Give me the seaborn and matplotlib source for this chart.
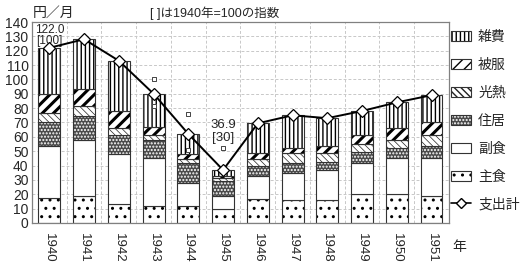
import numpy as np
import pandas as pd
import matplotlib
matplotlib.use('Agg')
import matplotlib.pyplot as plt
import matplotlib.patches as mpatches
from matplotlib.lines import Line2D
from matplotlib.legend_handler import HandlerTuple
import seaborn as sns

# 家計支出の内訳 (円/月)
years = ['1940', '1941', '1942', '1943', '1944', '1945',
         '1946', '1947', '1948', '1949', '1950', '1951']
shushoku = [17.5, 19, 13, 12, 12, 10, 17, 16, 16, 20, 20, 19]       # 主食
fukushoku = [36, 38.5, 35, 33, 15.5, 8.5, 15.6, 19, 21, 21.5, 25, 26.5]  # 副食
jukyo = [16.5, 17, 13.5, 13, 14, 11, 6.8, 6.5, 5.5, 8, 7, 8]       # 住居
kounetsu = [6.5, 7, 4.5, 3, 3, 1.5, 5, 7, 6, 5.5, 6, 8]            # 光熱
hifuku = [13, 12, 12, 6, 3.5, 1.5, 4, 4, 5, 6, 8, 8.5]             # 被服
zappi = [32.5, 34.5, 35, 23, 14, 4.4, 21, 22.5, 19.5, 17, 18, 19]  # 雑費
total = [122.0, 128, 113, 90, 62, 36.9, 69.4, 75, 73, 78, 84, 89]  # 支出計

# stray small square markers seen in the chart
stray_idx = [3, 3, 4, 4, 5]
stray_val = [100, 81.5, 75.7, 51, 52]

sns.set_style('white')
plt.rcParams['font.family'] = ['Liberation Sans', 'Noto Sans CJK JP', 'DejaVu Sans']
plt.rcParams['font.size'] = 9

fig, ax = plt.subplots(figsize=(5.22, 2.62), dpi=100)
fig.subplots_adjust(left=0.0613, right=0.860, top=0.916, bottom=0.149)

W = 0.63
segments = [
    ('主食', shushoku, 'white', '..', 'black', 1.0),
    ('副食', fukushoku, 'white', None, 'black', 1.0),
    ('住居', jukyo, '#4a4a4a', '.....', 'white', 1.0),
    ('光熱', kounetsu, 'white', '\\\\\\\\\\', '#222222', 0.5),
    ('被服', hifuku, 'white', '///', 'black', 2.2),
    ('雑費', zappi, 'white', '||||', 'black', 1.0),
]

bottom = np.zeros(len(years))
legend_handles = {}
for name, vals, fc, hatch, hc, hlw in segments:
    n0 = len(ax.patches)
    sns.barplot(x=years, y=vals, bottom=bottom, color=fc, saturation=1,
                width=W, hatch=hatch, edgecolor=hc, linewidth=0, ax=ax)
    for p in ax.patches[n0:]:
        p.set_facecolor(fc)
        p.set_edgecolor(hc)
        if hasattr(p, 'set_hatch_linewidth'):
            p.set_hatch_linewidth(hlw)
    # outline
    sns.barplot(x=years, y=vals, bottom=bottom, color='white', fill=False,
                width=W, edgecolor='#333333', linewidth=0.8, ax=ax)
    h = mpatches.Patch(facecolor=fc, edgecolor=hc, hatch=hatch, linewidth=0)
    if hasattr(h, 'set_hatch_linewidth'):
        h.set_hatch_linewidth(hlw)
    h_out = mpatches.Patch(facecolor='none', edgecolor='#333333', linewidth=0.8)
    legend_handles[name] = (h, h_out)
    bottom = bottom + np.array(vals)

sns.lineplot(x=np.arange(len(years)), y=total, color='black', lw=1.4,
             marker='D', markersize=6, markerfacecolor='white',
             markeredgecolor='black', markeredgewidth=0.9, ax=ax, zorder=5)
sns.scatterplot(x=stray_idx, y=stray_val, marker='s', s=6, facecolor='white',
                edgecolor='#444444', linewidth=0.7, ax=ax, zorder=6)

ax.set_xlim(-0.5, len(years) - 0.5)
ax.set_ylim(0, 140)
ax.set_yticks(np.arange(0, 141, 10))
ax.set_xticks(np.arange(len(years)))
ax.set_xticklabels(years, rotation=-90, fontsize=9.5)
ax.set_xticks(np.arange(-0.5, len(years)), minor=True)
ax.tick_params(axis='x', which='major', length=0, pad=7)
ax.tick_params(axis='x', which='minor', length=3, color='#808080', direction='out')
ax.tick_params(axis='y', length=3, color='#808080', direction='inout', labelsize=10, pad=1)
ax.grid(axis='y', which='major', color='#c8c8c8', linestyle=(0, (3, 2)), lw=0.7)
ax.grid(axis='x', which='minor', color='#c8c8c8', linestyle=(0, (3, 2)), lw=0.7)
ax.set_axisbelow(True)
ax.set_xlabel('')
ax.set_ylabel('')
for s in ax.spines.values():
    s.set_visible(True)
    s.set_color('#808080')
    s.set_linewidth(0.9)

ax.text(0, 130.5, '122.0\n[100]', ha='center', va='center', fontsize=8.5, linespacing=0.85)
ax.text(5.0, 63.5, '36.9\n[30]', ha='center', va='center', fontsize=9.5, linespacing=1.1)

fig.text(33 / 522, 1 - 13 / 262, '円／月', ha='left', va='center', fontsize=10)
fig.text(150 / 522, 1 - 13 / 262, '[ ]は1940年=100の指数', ha='left', va='center', fontsize=9)
fig.text(452 / 522, 1 - 247 / 262, '年', ha='left', va='center', fontsize=10)

order = ['雑費', '被服', '光熱', '住居', '副食', '主食']
handles = [legend_handles[k] for k in order]
handles.append(Line2D([], [], color='black', lw=1.2, marker='D', markersize=5,
                      markerfacecolor='white', markeredgecolor='black'))
labels = order + ['支出計']
leg = fig.legend(handles, labels, loc='upper left', bbox_to_anchor=(0.864, 0.885),
                 frameon=False, fontsize=10, handlelength=1.45, handleheight=0.75,
                 labelspacing=1.0, handletextpad=0.5, borderaxespad=0, borderpad=0,
                 handler_map={tuple: HandlerTuple(ndivide=1, pad=0)})

fig.savefig('out.png', dpi=100)
